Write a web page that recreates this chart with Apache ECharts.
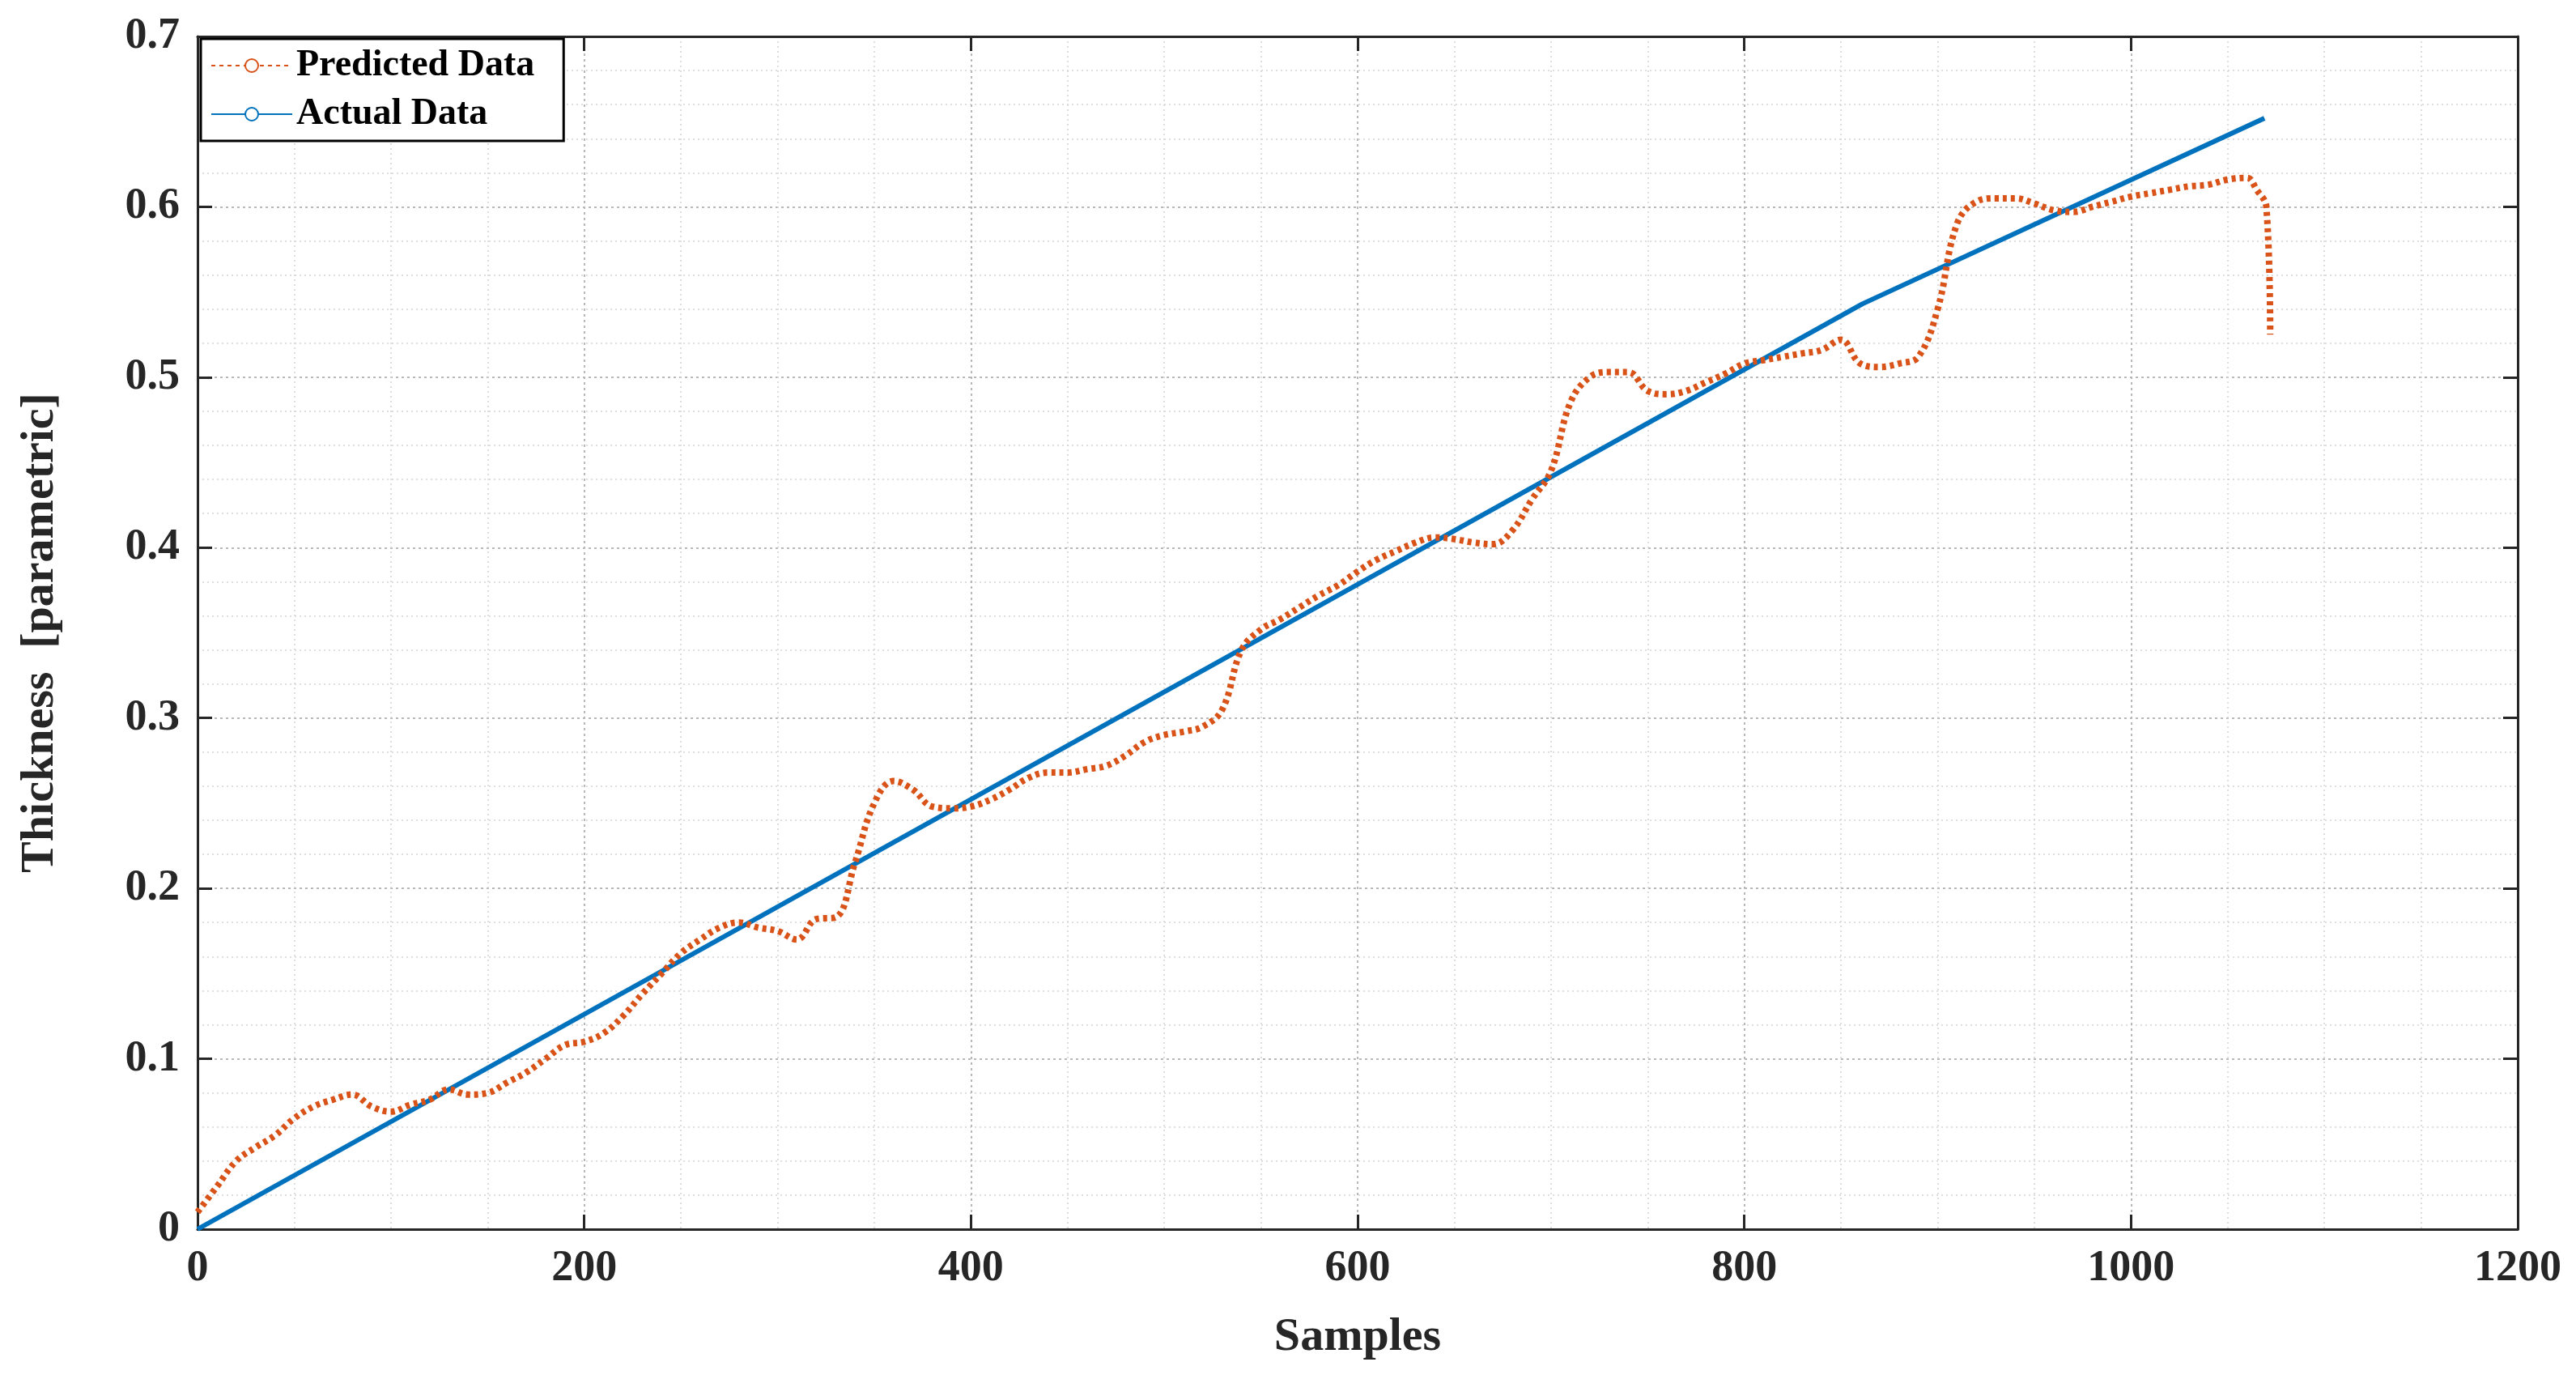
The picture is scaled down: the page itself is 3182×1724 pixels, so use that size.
<!DOCTYPE html>
<html><head><meta charset="utf-8">
<script src="https://cdn.jsdelivr.net/npm/echarts@6/dist/echarts.min.js"></script>
<style>html,body{margin:0;background:#fff}#c{width:3182px;height:1724px}</style>
</head><body><div id="c"></div>
<script>
const predSamples = [0,10,20,30,40,50,60,70,80,90,100,110,120,130,140,150,160,170,180,190,200,210,220,230,240,250,260,270,280,290,300,310,320,330,340,350,360,370,380,390,400,410,420,430,440,450,460,470,480,490,500,510,520,530,540,550,560,570,580,590,600,610,620,630,640,650,660,670,680,690,700,710,720,730,740,750,760,770,780,790,800,810,820,830,840,850,860,870,880,890,900,910,920,930,940,950,960,970,980,990,1000,1010,1020,1030,1040,1050,1060,1065,1070,1072];
const predicted = [0.01,0.025,0.04,0.048,0.055,0.065,0.072,0.076,0.079,0.072,0.069,0.073,0.076,0.082,0.079,0.080,0.086,0.092,0.100,0.108,0.110,0.115,0.125,0.138,0.150,0.162,0.170,0.177,0.180,0.177,0.175,0.170,0.182,0.183,0.215,0.250,0.263,0.258,0.248,0.247,0.248,0.252,0.258,0.265,0.268,0.268,0.270,0.272,0.278,0.286,0.290,0.292,0.295,0.305,0.340,0.352,0.358,0.365,0.372,0.378,0.386,0.393,0.398,0.403,0.406,0.405,0.403,0.402,0.410,0.428,0.445,0.485,0.500,0.503,0.503,0.492,0.490,0.492,0.497,0.502,0.508,0.510,0.512,0.514,0.516,0.522,0.508,0.506,0.508,0.512,0.540,0.590,0.603,0.605,0.605,0.602,0.598,0.597,0.600,0.603,0.606,0.608,0.610,0.612,0.613,0.616,0.617,0.610,0.600,0.525];
const actualSamples = [0,861,1069];
const actual = [0,0.543,0.652];

const font = 'Liberation Serif';
const zip = (a,b)=>a.map((v,i)=>[v,b[i]]);
const chart = echarts.init(document.getElementById('c'));
const gridLine = {show:true,lineStyle:{color:'#b8b8b8',type:[3,4],width:2}};
const minorLine = {show:true,lineStyle:{color:'#d4d4d4',type:[2,4],width:1.5}};
const frameAxis = {onZero:false,show:true,lineStyle:{color:'#262626',width:3}};
const tick = {show:true,inside:true,length:18,lineStyle:{color:'#262626',width:3}};
chart.setOption({
  animation:false,
  textStyle:{fontFamily:font},
  grid:{left:244,right:72,top:45,bottom:206},
  legend:{left:248,top:48,orient:'vertical',backgroundColor:'#fff',borderColor:'#000',borderWidth:3,
    padding:[10,36,10,12],itemGap:14,itemWidth:100,itemHeight:20,
    textStyle:{fontFamily:font,fontWeight:'bold',fontSize:46,color:'#000'},
    data:['Predicted Data','Actual Data']},
  xAxis:[{type:'value',min:0,max:1200,interval:200,
    name:'Samples',nameLocation:'middle',nameGap:105,
    nameTextStyle:{fontFamily:font,fontWeight:'bold',fontSize:58,color:'#262626'},
    axisLabel:{fontFamily:font,fontWeight:'bold',fontSize:54,color:'#262626',margin:22,formatter:v=>String(v)},
    axisLine:frameAxis,axisTick:tick,
    splitLine:gridLine,minorTick:{show:true,splitNumber:4,length:0},minorSplitLine:minorLine},
    {type:'value',position:'top',min:0,max:1200,interval:200,axisLabel:{show:false},
    axisLine:frameAxis,axisTick:tick,splitLine:{show:false}}],
  yAxis:[{type:'value',min:0,max:0.7,interval:0.1,
    name:'Thickness  [parametric]',nameLocation:'middle',nameGap:165,
    nameTextStyle:{fontFamily:font,fontWeight:'bold',fontSize:58,color:'#262626'},
    axisLabel:{fontFamily:font,fontWeight:'bold',fontSize:54,color:'#262626',margin:22,
      formatter:v=>v===0?'0':v.toFixed(1)},
    axisLine:frameAxis,axisTick:tick,
    splitLine:gridLine,minorTick:{show:true,splitNumber:5,length:0},minorSplitLine:minorLine},
    {type:'value',position:'right',min:0,max:0.7,interval:0.1,axisLabel:{show:false},
    axisLine:frameAxis,axisTick:tick,splitLine:{show:false}}],
  series:[
    {name:'Predicted Data',type:'line',showSymbol:false,smooth:0.4,data:zip(predSamples,predicted),
      itemStyle:{color:'#D95319'},lineStyle:{color:'#D95319',width:8,type:[5,5]},z:3},
    {name:'Actual Data',type:'line',showSymbol:false,data:zip(actualSamples,actual),
      itemStyle:{color:'#0072BD'},lineStyle:{color:'#0072BD',width:6},z:2}
  ]
});
</script></body></html>
